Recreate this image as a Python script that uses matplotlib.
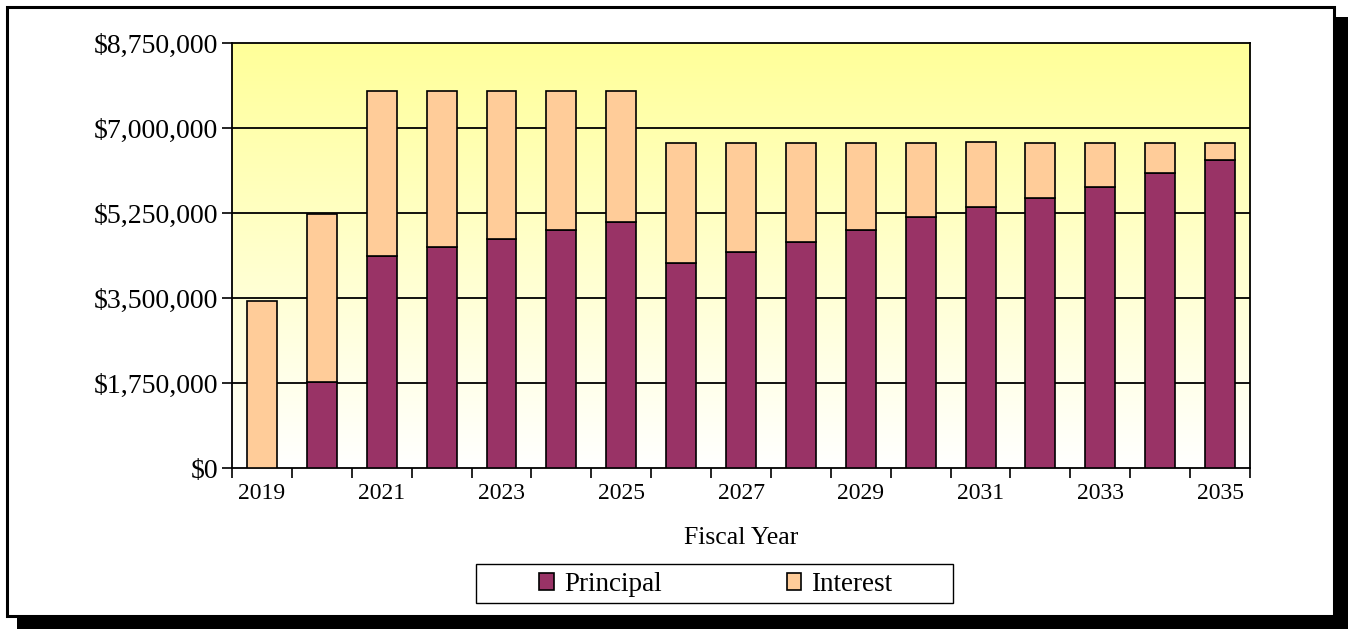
import numpy as np
import matplotlib.pyplot as plt
from matplotlib.patches import Rectangle
from matplotlib.ticker import FuncFormatter

plt.rcParams['font.family'] = ['Liberation Serif', 'DejaVu Serif']

# Debt service by fiscal year
years = [2019, 2020, 2021, 2022, 2023, 2024, 2025, 2026, 2027,
         2028, 2029, 2030, 2031, 2032, 2033, 2034, 2035]
principal = [0, 1775000, 4375000, 4540000, 4710000, 4905000, 5060000, 4220000, 4440000,
             4650000, 4905000, 5165000, 5375000, 5560000, 5790000, 6065000, 6350000]
total = [3435000, 5225000, 7765000, 7765000, 7765000, 7765000, 7765000, 6700000, 6700000,
         6700000, 6700000, 6700000, 6720000, 6700000, 6700000, 6700000, 6700000]
interest = [t - p for t, p in zip(total, principal)]

y_ticks = [0, 1750000, 3500000, 5250000, 7000000, 8750000]

W, H = 1348, 629
fig = plt.figure(figsize=(W / 100, H / 100), dpi=100)
fig.patch.set_facecolor('white')

# boxes in pixel coordinates measured from the top-left corner
def px_rect(x0, y0, x1, y1, **kw):
    r = Rectangle((x0 / W, 1 - y1 / H), (x1 - x0) / W, (y1 - y0) / H,
                  transform=fig.transFigure, **kw)
    fig.add_artist(r)
    return r

# outer frame with drop shadow
px_rect(17, 17, W, H, facecolor='black', edgecolor='none', zorder=0)
px_rect(6.5, 6.5, 1333.5, 615.5, facecolor='white', edgecolor='black', linewidth=2.2, zorder=0.5)

ax = fig.add_axes([232 / W, 1 - 468 / H, (1250 - 232) / W, (468 - 43) / H])
ax.set_zorder(2)

x = np.arange(len(years))
ax.set_xlim(-0.5, len(years) - 0.5)
ax.set_ylim(0, 8750000)

# yellow-to-white background gradient
grad = np.linspace(0, 1, 256).reshape(-1, 1)
top = np.array([1.0, 1.0, 0.6])
bot = np.array([1.0, 1.0, 1.0])
img = bot + (top - bot) * grad[..., None]
ax.imshow(img, extent=[-0.5, len(years) - 0.5, 0, 8750000], origin='lower',
          aspect='auto', zorder=0)

for yv in y_ticks[1:-1]:
    ax.axhline(yv, color='black', linewidth=1.3, zorder=1)

ax.bar(x, principal, width=0.5, color='#993366', edgecolor='black', linewidth=1.2,
       label='Principal', zorder=3)
ax.bar(x, interest, width=0.5, bottom=principal, color='#FFCC99', edgecolor='black',
       linewidth=1.2, label='Interest', zorder=3)

for s in ax.spines.values():
    s.set_linewidth(1.3)
    s.set_color('black')

ax.set_yticks(y_ticks)
ax.yaxis.set_major_formatter(FuncFormatter(lambda v, _: '${:,.0f}'.format(v)))
ax.tick_params(axis='y', length=7, width=1.2, pad=3, labelsize=20)

ax.set_xticks(x[::2])
ax.set_xticklabels([str(y) for y in years[::2]])
ax.set_xticks(np.arange(-0.5, len(years), 1.0), minor=True)
ax.tick_params(axis='x', which='major', length=0, pad=11, labelsize=17)
ax.tick_params(axis='x', which='minor', length=7, width=1.2)

ax.set_xlabel('Fiscal Year', fontsize=18.5, labelpad=16.5)

# legend box
px_rect(475.5, 563.5, 953.5, 602.5, facecolor='white', edgecolor='black',
        linewidth=1.0, zorder=1)
leg = fig.legend(loc='center', bbox_to_anchor=(716 / W, 1 - 584.5 / H), ncol=2,
                 fontsize=19.5, frameon=False,
                 handlelength=0.55, handleheight=0.55, handletextpad=0.37,
                 columnspacing=4.6, borderpad=0, borderaxespad=0)
leg.set_zorder(3)

fig.savefig('out.png', dpi=100)
